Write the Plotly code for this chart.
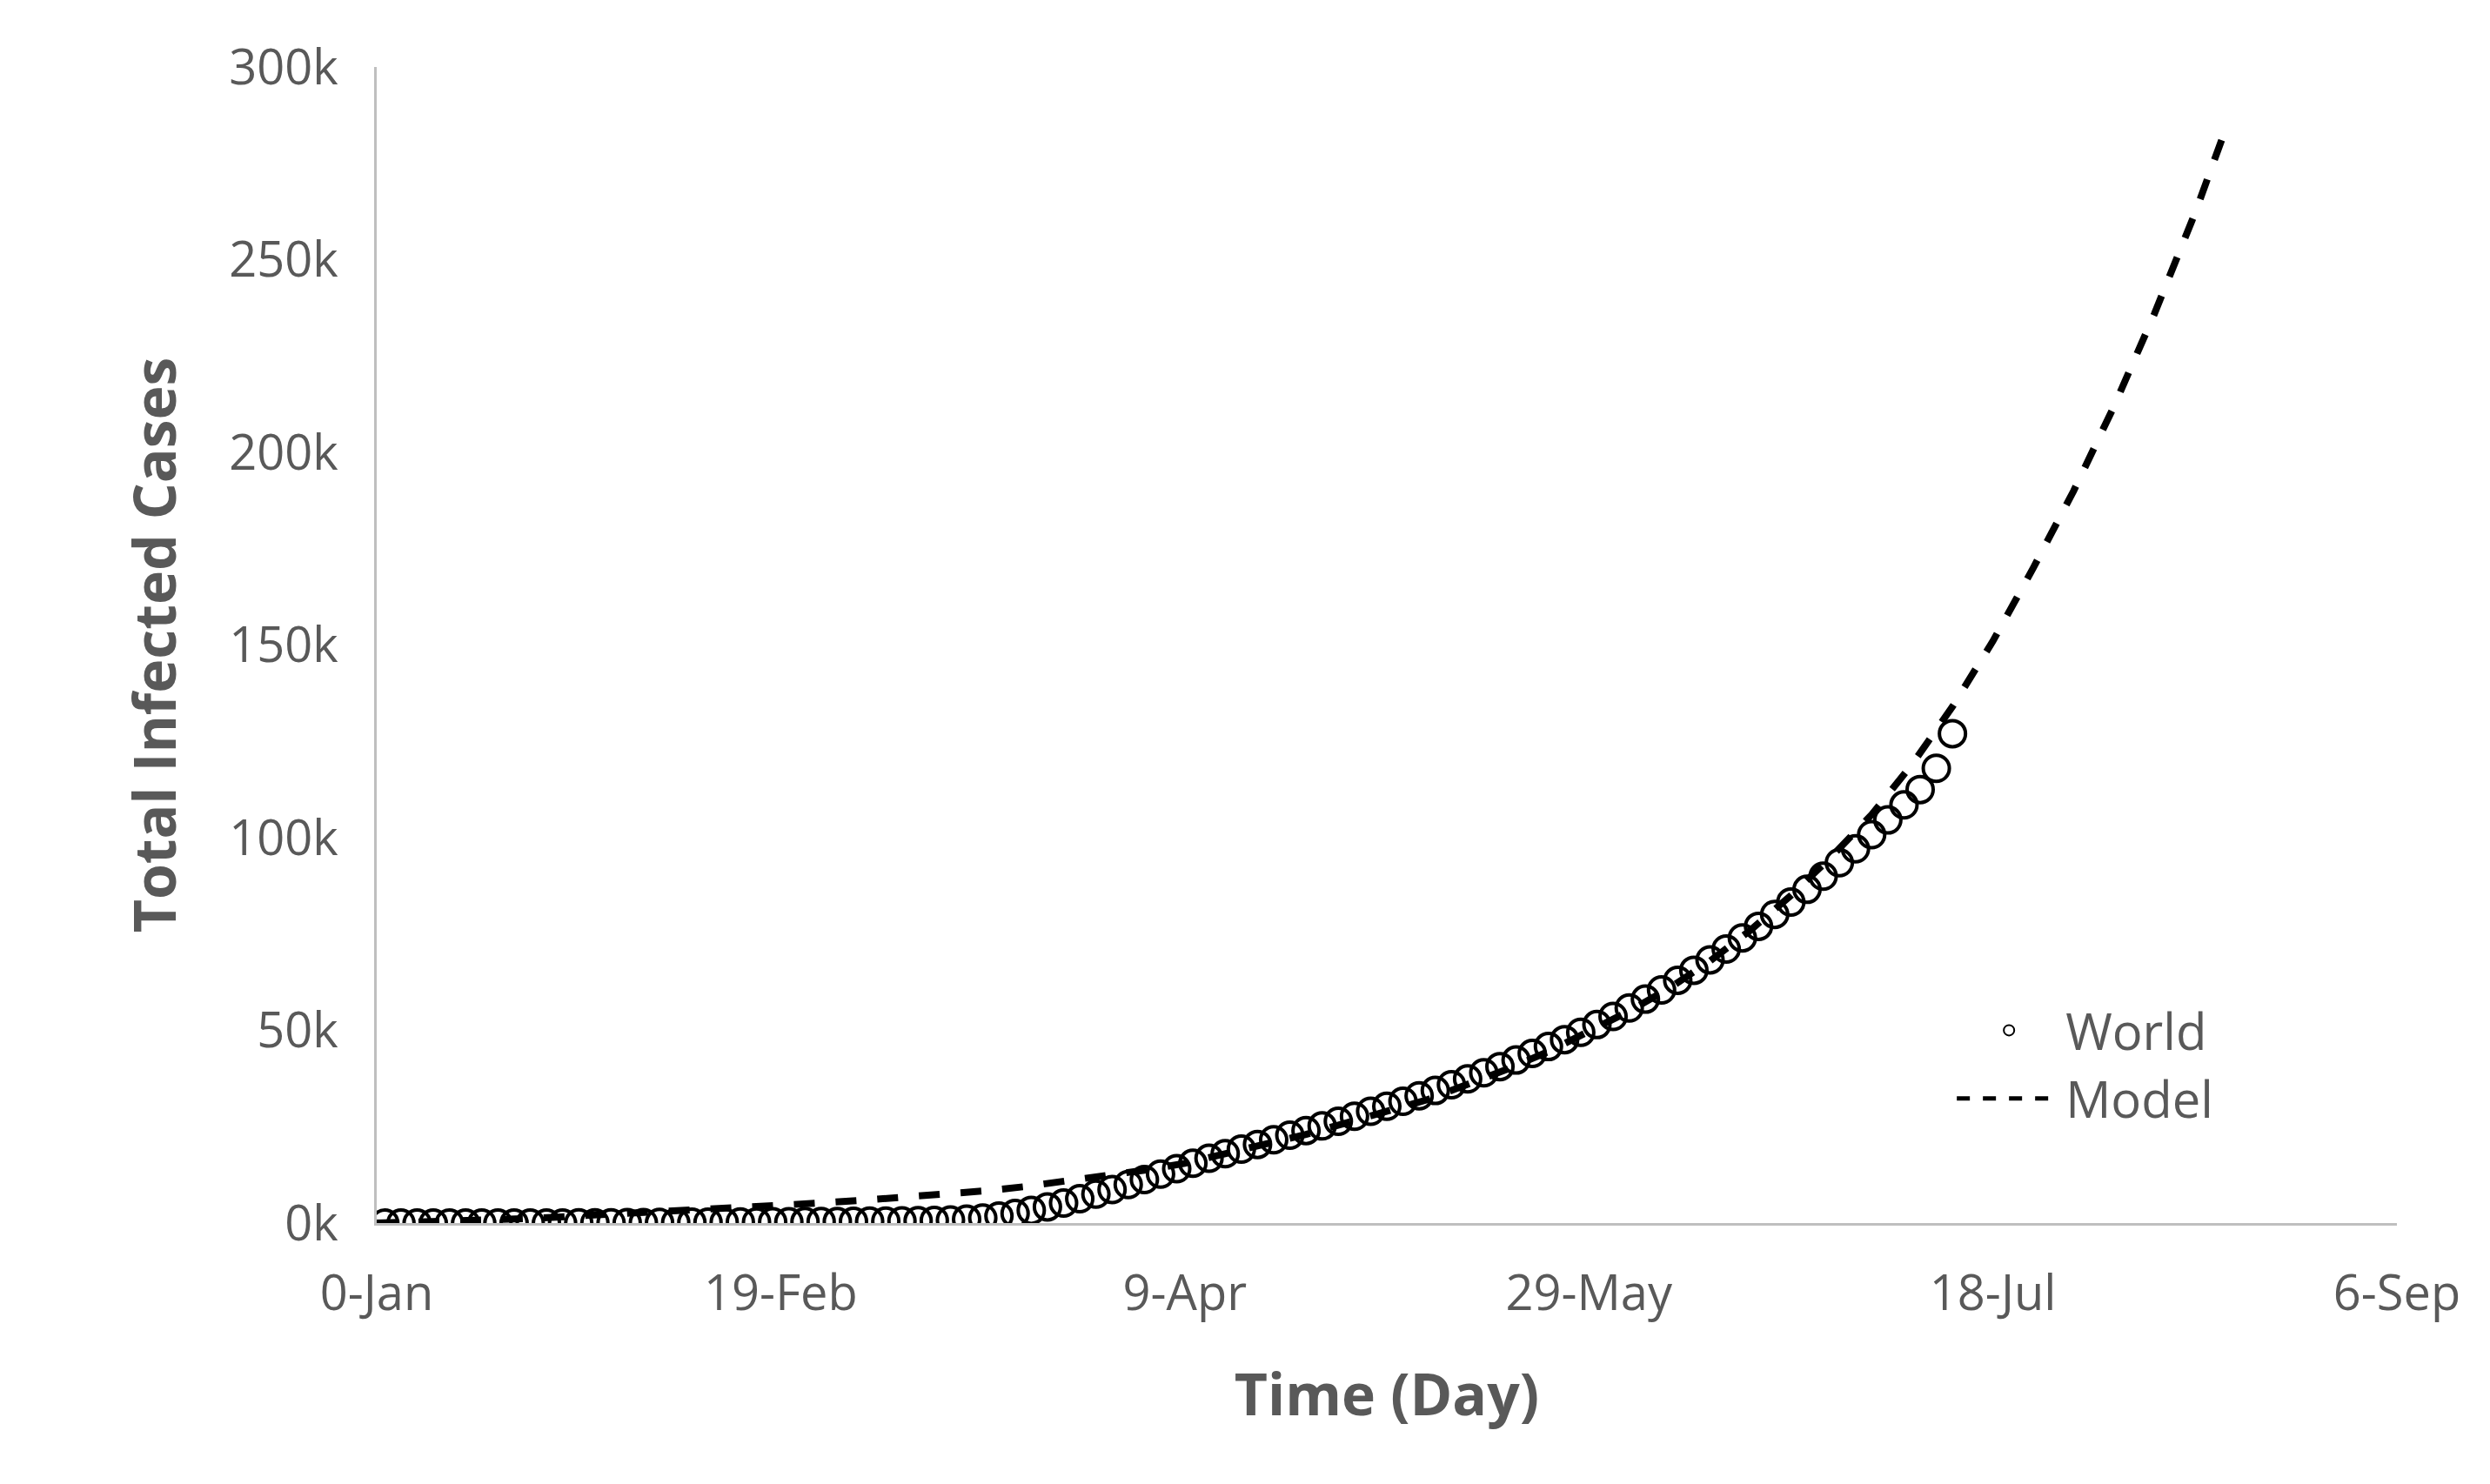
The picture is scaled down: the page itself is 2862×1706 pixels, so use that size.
import plotly.graph_objects as go

world_days = list(range(1, 196, 2))
world_cases = [0,0,0,0,0,0,0,0,0,0,10,20,30,50,80,100,120,150,180,200,220,250,270,300,320,
               350,380,400,420,450,480,500,550,600,700,800,1000,
               1300,1800,2500,3300,4200,5200,6300,7500,8700,10000,11300,12700,14100,
               15500,16800,18000,19200,20400,21600,22800,24000,25200,26400,27700,29000,30300,31600,33000,34400,35900,37400,39000,40600,42300,44000,45800,47600,49500,
               51500,53600,55800,58100,60500,63000,65600,68300,71100,74000,77000,80100,83300,86600,90000,93500,97100,100800,104600,108500,112500,118000,127000]

model_days = list(range(0, 230, 5)) + [229]
model_cases = [0,200,500,900,1300,1800,2300,2800,3400,4000,4600,5200,5900,6600,7400,8300,9400,10700,12100,13700,15500,
               18000,20500,23000,26000,29000,32000,36000,40000,44500,49500,55000,61000,68000,76000,85000,95000,106000,119000,
               134000,151000,170000,190000,212000,236000,262000,285000]

x_ticks = [0, 50, 100, 150, 200, 250]
x_labels = ["0-Jan", "19-Feb", "9-Apr", "29-May", "18-Jul", "6-Sep"]
y_ticks = [0, 50000, 100000, 150000, 200000, 250000, 300000]
y_labels = ["0k", "50k", "100k", "150k", "200k", "250k", "300k"]

gray = "#595959"
fig = go.Figure()
fig.add_trace(go.Scatter(x=world_days, y=world_cases, mode="markers", name="World",
                         marker=dict(symbol="circle-open", size=30, color="black", line=dict(width=4))))
fig.add_trace(go.Scatter(x=model_days, y=model_cases, mode="lines", name="Model",
                         line=dict(color="black", width=8, dash="dash")))
fig.update_layout(
    width=2862, height=1706, paper_bgcolor="white", plot_bgcolor="white",
    margin=dict(l=425, r=115, t=69, b=308),
    font=dict(family="Open Sans, Lato, sans-serif", color=gray, size=56),
    legend=dict(x=0.78, y=0.2, xanchor="left", yanchor="top", bgcolor="rgba(0,0,0,0)",
                itemwidth=120, tracegroupgap=10, itemsizing="constant",
                font=dict(size=58, color=gray)),
    xaxis=dict(range=[0, 250], tickvals=x_ticks, ticktext=x_labels, showgrid=False, zeroline=False,
               showline=True, linecolor="#bfbfbf", linewidth=3, ticks="", ticklabelstandoff=30,
               title=dict(text="<b>Time (Day)</b>", font=dict(size=66, color=gray), standoff=60)),
    yaxis=dict(range=[0, 300000], tickvals=y_ticks, ticktext=y_labels, showgrid=False, zeroline=False,
               showline=True, linecolor="#bfbfbf", linewidth=3, ticks="", ticklabelstandoff=30,
               title=dict(text="<b>Total Infected Cases</b>", font=dict(size=66, color=gray), standoff=40)),
)
fig.write_html("out.html")
